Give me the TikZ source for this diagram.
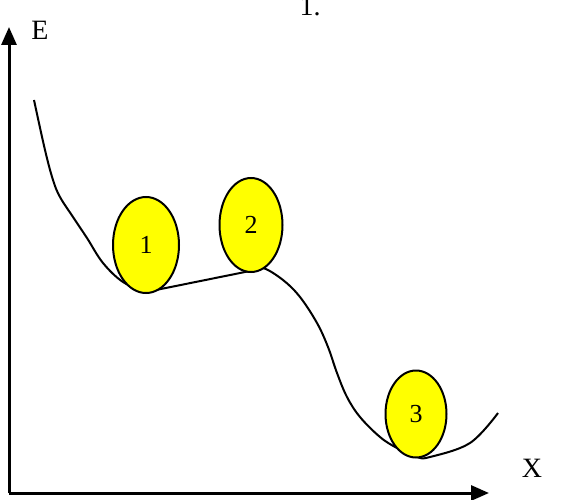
\documentclass[tikz,border=0pt]{standalone}
\usepackage{fontspec}
\setmainfont{Liberation Serif}
\usetikzlibrary{arrows.meta,positioning,shapes.geometric}
\definecolor{ballyellow}{RGB}{255,255,0}

\begin{document}
\begin{tikzpicture}[
    x=1pt, y=-1pt,
    ball/.style={ellipse, draw=black, line width=2pt, fill=ballyellow,
        minimum width=66pt, minimum height=96pt, inner sep=0pt,
        font=\fontsize{26}{30}\selectfont},
    axis/.style={-{Triangle[length=18pt, width=15pt]}, line width=3pt},
    curve/.style={line width=2pt},
    lbl/.style={font=\fontsize{28}{32}\selectfont, inner sep=0pt}
]
    \useasboundingbox (0,0) rectangle (567,500);

    % axes
    \coordinate (origin) at (9,493);
    \coordinate (ytip) at (9,27);
    \coordinate (xtip) at (489,493);
    \draw[axis] (origin) -- (ytip);
    \draw[axis] (origin) -- (xtip);
    \node[lbl] (elabel) at (40,30) {E};
    \node[lbl] (xlabel) at (532,468) {X};
    \node[lbl] (title) at (310,6) {1.};

    % energy curve
    \draw[curve] plot[smooth, tension=0.6] coordinates {
        (34,100) (45,150) (53,180) (60,197) (73,217) (87,238) (103,263)
        (123,282) (146,292)}
        -- (250,271)
        plot[smooth, tension=0.6] coordinates {
        (250,271) (263,268) (283,280) (300,297) (317,323) (328,347)
        (337,373) (347,397) (360,417) (380,437) (397,448) (417,457)
        (430,457) (470,443) (498,413)};

    % balls
    \node[ball] (ballA) at (146,245) {1};
    \node[ball, minimum width=63pt, minimum height=94pt] (ballB) at (251,225) {2};
    \node[ball, minimum width=61pt, minimum height=87pt] (ballC) at (416,414) {3};
\end{tikzpicture}
\end{document}
